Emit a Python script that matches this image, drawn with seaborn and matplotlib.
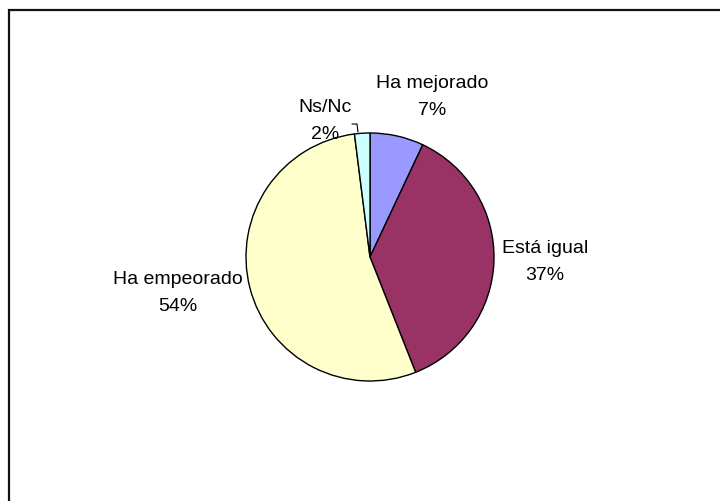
import matplotlib
matplotlib.use("Agg")
import matplotlib.pyplot as plt
import seaborn as sns
from matplotlib.patches import Rectangle

# Survey answers and shares (%)
categories = ["Ha mejorado", "Está igual", "Ha empeorado", "Ns/Nc"]
values = [7, 37, 54, 2]
slice_colors = ["#9999FF", "#993366", "#FFFFCC", "#CCFFFF"]

sns.set_style("white")
plt.rcParams["font.family"] = ["Liberation Sans", "DejaVu Sans"]

W, H = 720, 501
fig = plt.figure(figsize=(W / 100, H / 100), dpi=100)
ax = fig.add_axes([0, 0, 1, 1])
ax.set_xlim(0, W)
ax.set_ylim(0, H)
ax.axis("off")

cx, cy, r = 370, H - 257, 124
palette = sns.color_palette(slice_colors)
wedges, _ = ax.pie(values, colors=palette, startangle=90, counterclock=False,
                   center=(cx, cy), radius=r,
                   wedgeprops=dict(edgecolor="black", linewidth=1.0))
ax.set_xlim(0, W)
ax.set_ylim(0, H)
ax.set_aspect("equal")

# Label positions (screen pixels, top-left origin) for each category
label_xy = {
    "Ha mejorado": (432, 97),
    "Está igual": (545, 262),
    "Ha empeorado": (178, 293),
    "Ns/Nc": (325, 121),
}
for cat, val in zip(categories, values):
    x, y = label_xy[cat]
    ax.text(x, H - y, f"{cat}\n{val}%", ha="center", va="center",
            fontsize=14, linespacing=1.8, color="black")

# Leader line for the small slice
ax.plot([352, 357, 358], [H - 124, H - 124, H - 132], color="black", lw=0.8)

# Outer frame
ax.add_patch(Rectangle((9, -10), W + 20, H - 10 + 10, fill=False,
                       edgecolor="#111111", linewidth=1.6, clip_on=False))

fig.savefig("out.png", dpi=100, facecolor="white")
